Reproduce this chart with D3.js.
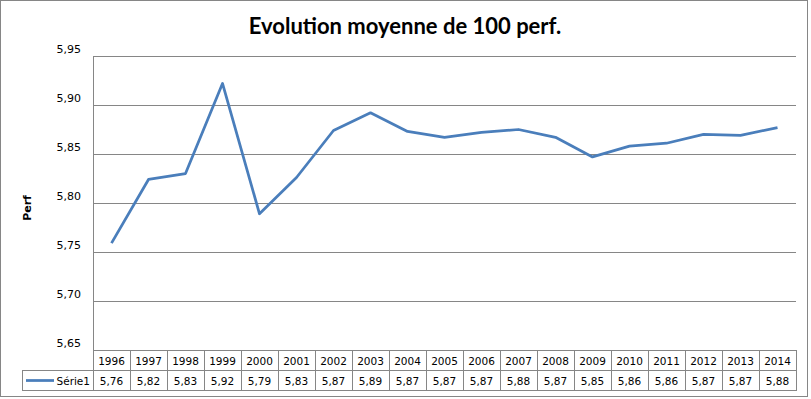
<!DOCTYPE html>
<html>
<head>
<meta charset="utf-8">
<style>
    body { margin: 0; background: #fff; }
    .grid line { stroke: #868686; stroke-width: 1; }
    .tick-label { font-family: "DejaVu Sans", sans-serif; font-size: 11px; fill: #000; }
    .cell { fill: none; stroke: #868686; stroke-width: 1; }
    .cell-text { font-family: "DejaVu Sans", sans-serif; font-size: 10.5px; fill: #000; }
</style>
</head>
<body>
<script src="https://cdn.jsdelivr.net/npm/d3@7"></script>
<script>
    var years = ["1996", "1997", "1998", "1999", "2000", "2001", "2002", "2003", "2004", "2005",
                 "2006", "2007", "2008", "2009", "2010", "2011", "2012", "2013", "2014"];
    var perf = [5.759, 5.824, 5.830, 5.922, 5.789, 5.826, 5.874, 5.892, 5.873, 5.867,
                5.872, 5.875, 5.867, 5.847, 5.858, 5.861, 5.870, 5.869, 5.877];
    var yTicks = [5.65, 5.70, 5.75, 5.80, 5.85, 5.90, 5.95];
    var seriesName = "Série1";
    var title = "Evolution moyenne de 100 perf.";
    var yTitle = "Perf";

    var width = 811,
        height = 399,
        plotLeft = 93,
        plotRight = 796,
        plotTop = 56,
        plotBottom = 350,
        rowH = 20;

    var fmt = function(v) { return d3.format(".2f")(v).replace(".", ","); };

    var x = d3.scaleBand().domain(years).range([plotLeft, plotRight]);
    var y = d3.scaleLinear().domain([5.65, 5.95]).range([plotBottom, plotTop]);

    var svg = d3.select("body").append("svg")
        .attr("width", width)
        .attr("height", height);

    // chart frame
    svg.append("rect")
        .attr("x", 0.5).attr("y", 0.5)
        .attr("width", 807).attr("height", 396)
        .attr("fill", "#fff")
        .attr("stroke", "#868686");

    svg.append("text")
        .attr("x", 405).attr("y", 34)
        .attr("text-anchor", "middle")
        .style("font-family", "Lato, 'Open Sans', sans-serif")
        .style("font-weight", "bold")
        .style("font-size", "22px")
        .text(title);

    // gridlines
    svg.append("g").attr("class", "grid")
        .selectAll("line")
        .data(yTicks)
        .enter().append("line")
        .attr("x1", plotLeft).attr("x2", plotRight)
        .attr("y1", function(d) { return Math.round(y(d)) + 0.5; })
        .attr("y2", function(d) { return Math.round(y(d)) + 0.5; });

    // y axis line
    svg.append("line")
        .attr("x1", plotLeft + 0.5).attr("x2", plotLeft + 0.5)
        .attr("y1", plotTop).attr("y2", plotBottom)
        .attr("stroke", "#868686");

    svg.append("g")
        .selectAll("text")
        .data(yTicks)
        .enter().append("text")
        .attr("class", "tick-label")
        .attr("x", 81)
        .attr("y", function(d) { return y(d) - 3; })
        .attr("text-anchor", "end")
        .text(fmt);

    svg.append("text")
        .attr("transform", "translate(31,208) rotate(-90)")
        .attr("text-anchor", "middle")
        .style("font-family", "'DejaVu Sans', sans-serif")
        .style("font-weight", "bold")
        .style("font-size", "11px")
        .text(yTitle);

    // line
    var line = d3.line()
        .x(function(d, i) { return x(years[i]) + x.bandwidth() / 2; })
        .y(function(d) { return y(d); });

    svg.append("path")
        .datum(perf)
        .attr("d", line)
        .attr("fill", "none")
        .attr("stroke", "#4a7ebb")
        .attr("stroke-width", 2.75)
        .attr("stroke-linejoin", "round");

    // data table
    var table = svg.append("g");
    var r1 = plotBottom + 0.5, r2 = r1 + rowH;

    table.selectAll("rect.head")
        .data(years)
        .enter().append("rect")
        .attr("class", "cell")
        .attr("x", function(d) { return Math.round(x(d)) + 0.5; })
        .attr("y", r1)
        .attr("width", function(d) { return Math.round(x(d) + x.bandwidth()) - Math.round(x(d)); })
        .attr("height", rowH);

    table.selectAll("rect.val")
        .data(years)
        .enter().append("rect")
        .attr("class", "cell")
        .attr("x", function(d) { return Math.round(x(d)) + 0.5; })
        .attr("y", r2)
        .attr("width", function(d) { return Math.round(x(d) + x.bandwidth()) - Math.round(x(d)); })
        .attr("height", rowH);

    table.append("rect")
        .attr("class", "cell")
        .attr("x", 22.5).attr("y", r2)
        .attr("width", plotLeft - 22).attr("height", rowH);

    table.selectAll("text.head")
        .data(years)
        .enter().append("text")
        .attr("class", "cell-text")
        .attr("x", function(d) { return x(d) + x.bandwidth() / 2; })
        .attr("y", r1 + 14)
        .attr("text-anchor", "middle")
        .text(function(d) { return d; });

    table.selectAll("text.val")
        .data(perf)
        .enter().append("text")
        .attr("class", "cell-text")
        .attr("x", function(d, i) { return x(years[i]) + x.bandwidth() / 2; })
        .attr("y", r2 + 14.5)
        .attr("text-anchor", "middle")
        .text(fmt);

    table.append("line")
        .attr("x1", 26).attr("x2", 54)
        .attr("y1", r2 + rowH / 2).attr("y2", r2 + rowH / 2)
        .attr("stroke", "#4a7ebb")
        .attr("stroke-width", 2.75);

    table.append("text")
        .attr("class", "cell-text")
        .attr("x", 90)
        .attr("y", r2 + 14.5)
        .attr("text-anchor", "end")
        .text(seriesName);
</script>
</body>
</html>
